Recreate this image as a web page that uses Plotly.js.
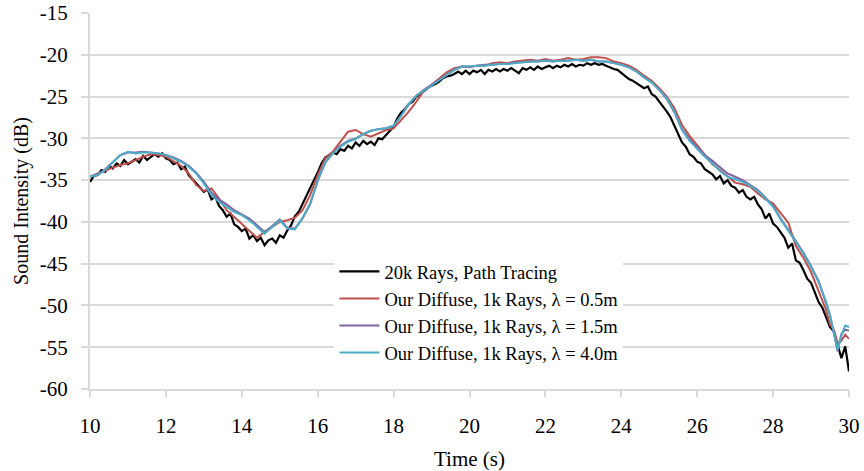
<!DOCTYPE html>
<html>
<head>
<meta charset="utf-8">
<script src="https://cdn.plot.ly/plotly-3.0.1.min.js"></script>
<style>html,body{margin:0;padding:0;background:#fff;}#chart{width:864px;height:471px;}</style>
</head>
<body>
<div id="chart"></div>
<script>
// Time axis for the reference path-tracing series (0.1 s steps)
var timeBlack = [10.0,10.1,10.2,10.3,10.4,10.5,10.6,10.7,10.8,10.9,11.0,11.1,11.2,11.3,11.4,11.5,11.6,11.7,11.8,11.9,
12.0,12.1,12.2,12.3,12.4,12.5,12.6,12.7,12.8,12.9,13.0,13.1,13.2,13.3,13.4,13.5,13.6,13.7,13.8,13.9,
14.0,14.1,14.2,14.3,14.4,14.5,14.6,14.7,14.8,14.9,15.0,15.1,15.2,15.3,15.4,15.5,15.6,15.7,15.8,15.9,
16.0,16.1,16.2,16.3,16.4,16.5,16.6,16.7,16.8,16.9,17.0,17.1,17.2,17.3,17.4,17.5,17.6,17.7,17.8,17.9,
18.0,18.1,18.2,18.3,18.4,18.5,18.6,18.7,18.8,18.9,19.0,19.1,19.2,19.3,19.4,19.5,19.6,19.7,19.8,19.9,
20.0,20.1,20.2,20.3,20.4,20.5,20.6,20.7,20.8,20.9,21.0,21.1,21.2,21.3,21.4,21.5,21.6,21.7,21.8,21.9,
22.0,22.1,22.2,22.3,22.4,22.5,22.6,22.7,22.8,22.9,23.0,23.1,23.2,23.3,23.4,23.5,23.6,23.7,23.8,23.9,
24.0,24.1,24.2,24.3,24.4,24.5,24.6,24.7,24.8,24.9,25.0,25.1,25.2,25.3,25.4,25.5,25.6,25.7,25.8,25.9,
26.0,26.1,26.2,26.3,26.4,26.5,26.6,26.7,26.8,26.9,27.0,27.1,27.2,27.3,27.4,27.5,27.6,27.7,27.8,27.9,
28.0,28.1,28.2,28.3,28.4,28.5,28.6,28.7,28.8,28.9,29.0,29.1,29.2,29.3,29.4,29.5,29.6,29.7,29.8,29.9,30.0];

var pathTracing20k = [-35.2,-34.5,-34.4,-33.8,-34.0,-33.3,-33.6,-33.0,-33.3,-32.6,-33.1,-32.8,-32.5,-32.9,-32.1,-32.6,-32.3,-31.9,-32.2,-31.8,
-32.4,-32.6,-33.1,-32.9,-33.7,-33.4,-34.4,-34.9,-35.5,-35.9,-36.4,-36.1,-37.3,-37.0,-38.1,-38.6,-39.4,-39.0,-40.3,-40.6,
-41.1,-40.8,-42.0,-41.6,-42.3,-41.9,-42.8,-42.2,-42.0,-42.5,-41.6,-41.9,-41.0,-40.4,-39.3,-38.8,-37.8,-36.9,-35.8,-35.0,
-34.1,-33.0,-32.3,-32.0,-31.7,-31.9,-31.3,-31.5,-30.9,-31.2,-30.5,-30.9,-30.3,-30.7,-30.4,-30.8,-30.0,-30.1,-29.6,-29.2,
-28.6,-27.6,-26.9,-26.5,-25.9,-25.6,-25.0,-24.7,-24.3,-24.0,-23.7,-23.5,-23.2,-22.8,-22.6,-22.5,-22.3,-22.0,-22.3,-21.9,
-22.3,-21.9,-22.1,-21.8,-22.3,-21.8,-22.0,-21.7,-22.0,-21.7,-21.9,-21.6,-21.9,-22.2,-21.6,-21.8,-21.5,-21.8,-21.4,-21.7,
-21.5,-21.3,-21.6,-21.3,-21.5,-21.2,-21.4,-21.1,-21.4,-21.2,-21.3,-21.0,-21.2,-21.0,-21.2,-21.1,-21.3,-21.5,-21.7,-21.8,
-22.2,-22.6,-22.9,-23.1,-23.4,-23.6,-24.0,-23.8,-24.7,-25.0,-25.6,-26.1,-26.8,-27.5,-28.5,-29.4,-30.5,-31.0,-31.9,-32.2,
-32.8,-33.0,-33.7,-34.0,-34.3,-34.9,-34.5,-35.4,-35.0,-35.7,-35.9,-36.5,-36.2,-37.0,-37.3,-37.0,-37.9,-38.5,-39.6,-39.0,
-40.2,-40.6,-41.3,-41.9,-43.1,-42.6,-44.6,-44.9,-45.8,-46.8,-47.3,-48.4,-49.6,-50.3,-51.4,-52.6,-53.1,-54.8,-56.3,-54.9,-57.9];

// Time axis for the three "Our Diffuse" series
var timeDiffuse = [10.0,10.2,10.4,10.6,10.8,11.0,11.2,11.4,11.6,11.8,12.0,12.2,12.4,12.6,12.8,13.0,13.2,13.4,13.6,13.8,
14.0,14.2,14.4,14.6,14.8,15.0,15.2,15.4,15.6,15.8,16.0,16.2,16.4,16.6,16.8,17.0,17.2,17.4,17.6,17.8,
18.0,18.2,18.4,18.6,18.8,19.0,19.2,19.4,19.6,19.8,20.0,20.2,20.4,20.6,20.8,21.0,21.2,21.4,21.6,21.8,
22.0,22.2,22.4,22.6,22.8,23.0,23.2,23.4,23.6,23.8,24.0,24.2,24.4,24.6,24.8,25.0,25.2,25.4,25.6,25.8,
26.0,26.2,26.4,26.6,26.8,27.0,27.2,27.4,27.6,27.8,28.0,28.2,28.4,28.6,28.8,29.0,29.2,29.4,29.5,29.6,29.7,29.8,29.9,30.0];

var diffuse05 = [-34.6,-34.2,-33.9,-33.5,-33.2,-33.0,-32.6,-32.2,-31.9,-32.0,-32.2,-32.8,-33.3,-34.2,-35.6,-36.3,-36.0,-37.2,-38.6,-39.4,
-40.2,-41.0,-41.9,-41.2,-40.6,-40.0,-39.8,-39.5,-38.6,-36.8,-34.4,-32.4,-31.6,-30.4,-29.2,-29.0,-29.5,-29.8,-29.4,-29.0,
-28.8,-27.8,-26.8,-25.6,-24.3,-23.6,-22.9,-22.1,-21.6,-21.4,-21.5,-21.3,-21.3,-21.0,-20.9,-21.0,-20.8,-20.7,-20.6,-20.7,
-20.5,-20.7,-20.6,-20.4,-20.6,-20.5,-20.3,-20.3,-20.4,-20.8,-21.0,-21.3,-21.8,-22.5,-23.1,-24.0,-25.0,-26.4,-28.4,-29.7,
-30.8,-32.0,-33.1,-33.8,-34.6,-35.3,-35.5,-35.8,-36.6,-37.3,-37.8,-38.9,-40.1,-42.9,-44.3,-46.0,-48.2,-50.6,-52.3,-52.9,-54.6,-54.2,-53.5,-54.0];

var diffuse15 = [-34.6,-34.3,-33.7,-32.8,-32.0,-31.7,-31.7,-31.6,-31.7,-31.8,-32.0,-32.3,-32.7,-33.3,-34.1,-35.2,-36.5,-37.3,-37.9,-38.6,
-39.1,-39.6,-40.4,-41.2,-40.5,-39.7,-40.7,-40.8,-39.6,-37.9,-35.1,-32.9,-31.8,-30.9,-30.3,-30.0,-29.5,-29.1,-28.9,-28.8,
-28.5,-27.3,-25.9,-24.9,-24.2,-23.6,-23.0,-22.4,-21.8,-21.4,-21.4,-21.3,-21.2,-21.2,-21.1,-21.1,-20.9,-20.9,-20.8,-20.8,
-20.7,-20.8,-20.7,-20.7,-20.6,-20.7,-20.6,-20.8,-20.8,-21.0,-21.2,-21.5,-22.0,-22.7,-23.3,-24.2,-25.3,-26.9,-28.9,-30.1,
-31.1,-32.0,-32.7,-33.5,-34.2,-34.6,-35.0,-35.6,-36.2,-37.1,-38.1,-39.6,-40.9,-42.3,-43.7,-45.3,-47.1,-49.7,-51.2,-53.3,-55.5,-53.4,-52.9,-53.0];

var diffuse40 = [-34.6,-34.4,-33.8,-32.9,-32.0,-31.6,-31.8,-31.7,-31.7,-31.8,-32.0,-32.4,-32.8,-33.4,-34.2,-35.4,-36.8,-37.6,-38.2,-38.8,
-39.2,-39.8,-40.6,-41.4,-40.6,-39.8,-40.8,-40.9,-39.5,-37.8,-35.0,-32.8,-31.8,-31.0,-30.4,-30.1,-29.5,-29.1,-28.9,-28.8,
-28.5,-27.3,-25.9,-24.9,-24.3,-23.7,-23.1,-22.4,-21.8,-21.4,-21.4,-21.3,-21.3,-21.2,-21.1,-21.1,-21.0,-20.9,-20.8,-20.8,
-20.7,-20.8,-20.7,-20.7,-20.6,-20.7,-20.6,-20.8,-20.8,-21.0,-21.2,-21.5,-22.0,-22.7,-23.3,-24.2,-25.2,-26.8,-29.0,-30.3,
-31.3,-32.2,-33.0,-33.9,-34.6,-34.9,-35.2,-35.7,-36.3,-37.2,-38.2,-39.7,-41.0,-42.4,-43.8,-45.4,-47.2,-49.6,-51.2,-53.2,-55.3,-53.6,-52.4,-52.6];

// Axis ticks (labels written with a plain hyphen, as in the reference)
var yTickValues = [-60, -55, -50, -45, -40, -35, -30, -25, -20, -15];
var yTickLabels = ['-60', '-55', '-50', '-45', '-40', '-35', '-30', '-25', '-20', '-15'];
var xTickValues = [10, 12, 14, 16, 18, 20, 22, 24, 26, 28, 30];
var xTickLabels = ['10', '12', '14', '16', '18', '20', '22', '24', '26', '28', '30'];

var seriesNames = ['20k Rays, Path Tracing',
  'Our Diffuse, 1k Rays, \u03bb = 0.5m',
  'Our Diffuse, 1k Rays, \u03bb = 1.5m',
  'Our Diffuse, 1k Rays, \u03bb = 4.0m'];
var seriesColors = ['#000000', '#c0504d', '#8064a2', '#4bacc6'];

var traces = [
  {x: timeBlack, y: pathTracing20k, name: seriesNames[0], mode: 'lines', line: {color: seriesColors[0], width: 2.2}},
  {x: timeDiffuse, y: diffuse05, name: seriesNames[1], mode: 'lines', line: {color: seriesColors[1], width: 2}},
  {x: timeDiffuse, y: diffuse15, name: seriesNames[2], mode: 'lines', line: {color: seriesColors[2], width: 2}},
  {x: timeDiffuse, y: diffuse40, name: seriesNames[3], mode: 'lines', line: {color: seriesColors[3], width: 2}}
];

var FONT = 'Liberation Serif, Times New Roman, serif';
var layout = {
  width: 864, height: 471,
  margin: {l: 90, r: 15, t: 13, b: 82},
  paper_bgcolor: '#ffffff', plot_bgcolor: '#ffffff',
  font: {family: FONT, size: 20, color: '#000000'},
  showlegend: true,
  legend: {x: 0.322, y: 0.362, xanchor: 'left', yanchor: 'top', bgcolor: '#ffffff',
           font: {family: FONT, size: 18.5, color: '#000000'}, tracegroupgap: 0, itemwidth: 40},
  xaxis: {
    range: [10, 30], tickmode: 'array', tickvals: xTickValues, ticktext: xTickLabels,
    showgrid: false, zeroline: false,
    showline: true, linecolor: '#d9d9d9', linewidth: 2,
    ticks: 'outside', ticklen: 6, tickcolor: '#d9d9d9', tickwidth: 2,
    ticklabelstandoff: 11,
    tickfont: {family: FONT, size: 21, color: '#000000'},
    title: {text: 'Time (s)', font: {family: FONT, size: 21, color: '#000000'}, standoff: 15}
  },
  yaxis: {
    range: [-60, -15], tickmode: 'array', tickvals: yTickValues, ticktext: yTickLabels,
    showgrid: true, gridcolor: '#d9d9d9', gridwidth: 2, zeroline: false,
    showline: true, linecolor: '#d9d9d9', linewidth: 2,
    ticks: 'outside', ticklen: 7, tickcolor: '#d9d9d9', tickwidth: 2,
    ticklabelstandoff: 9,
    tickfont: {family: FONT, size: 21, color: '#000000'},
    title: {text: 'Sound Intensity (dB)', font: {family: FONT, size: 20, color: '#000000'}, standoff: 6}
  }
};

Plotly.newPlot('chart', traces, layout, {displayModeBar: false, staticPlot: true});
</script>
</body>
</html>
